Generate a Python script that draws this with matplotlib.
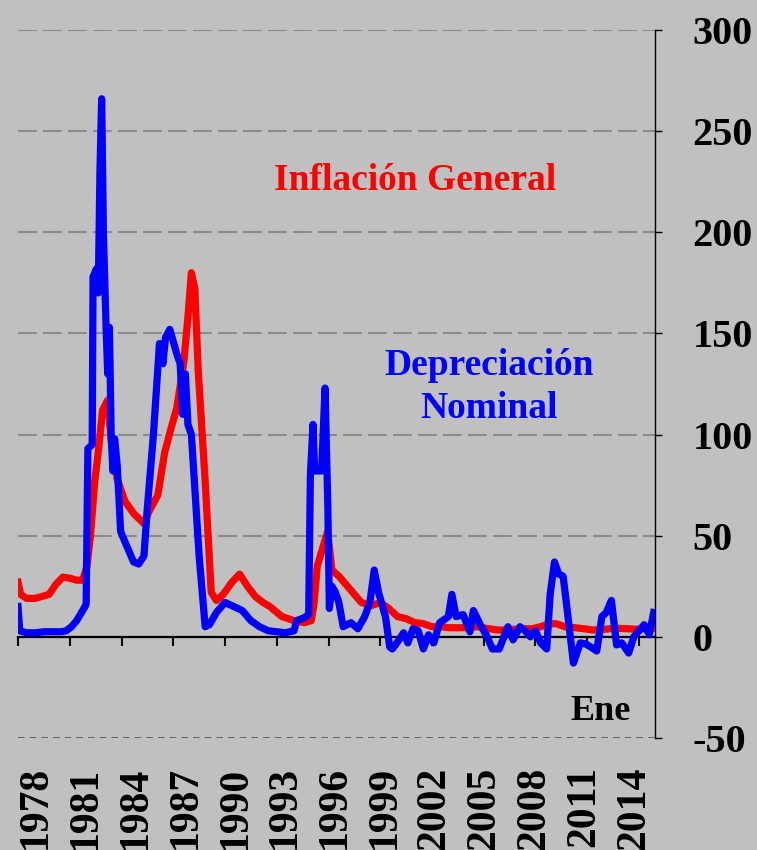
import matplotlib
matplotlib.use('Agg')
import matplotlib.pyplot as plt

# Inflación general (% anual)
red_t = [1978.0, 1978.15, 1978.5, 1979.0, 1979.4, 1979.8, 1980.2, 1980.6, 1981.0,
         1981.4, 1981.75, 1982.0, 1982.2, 1982.45, 1982.7, 1982.9, 1983.2, 1983.4,
         1983.75, 1984.2, 1984.7, 1985.3, 1985.6, 1986.1, 1986.5, 1986.9, 1987.2,
         1987.6, 1987.85, 1988.05, 1988.25, 1988.45, 1988.85, 1989.2, 1989.5, 1989.9,
         1990.4, 1990.85, 1991.3, 1991.75, 1992.2, 1992.6, 1993.3, 1994.0, 1994.6,
         1995.0, 1995.15, 1995.35, 1995.7, 1995.95, 1996.2, 1996.6, 1997.2, 1997.9,
         1998.5, 1999.0, 1999.5, 2000.0, 2000.5, 2001.0, 2001.5, 2002.0, 2002.5,
         2003.0, 2003.5, 2004.0, 2004.6, 2005.3, 2005.9, 2006.5, 2007.2, 2007.8,
         2008.3, 2008.8, 2009.2, 2009.7, 2010.3, 2010.8, 2011.3, 2011.8, 2012.3,
         2012.8, 2013.3, 2013.8, 2014.3, 2014.8]
red_v = [27, 21, 19, 19, 20, 21, 26, 29.5, 29,
         28, 28, 35, 50, 77, 95, 112, 117, 97,
         78, 67, 61, 56, 62, 70, 91, 104, 113,
         135, 158, 180, 172, 131, 77, 22, 18, 21,
         27, 31, 25, 20, 17, 15, 10, 8, 7,
         8, 16, 35, 45, 52, 33, 30, 24, 17,
         15.5, 17, 14, 10, 9, 7, 6.5, 5, 5,
         4.5, 4.5, 4.5, 5, 4, 3.3, 3.5, 4, 4,
         5, 6.5, 6.5, 5, 4.5, 4, 3.4, 3.5, 4,
         4.2, 4, 3.8, 4, 4.2]

# Depreciación nominal (% anual)
blue_t = [1978.0, 1978.1, 1978.5, 1979.0, 1979.5, 1980.0, 1980.5, 1980.8, 1981.1,
          1981.4, 1981.75, 1981.95, 1982.05, 1982.3, 1982.35, 1982.55, 1982.65, 1982.75,
          1982.85, 1982.95, 1983.1, 1983.2, 1983.3, 1983.4, 1983.5, 1983.6, 1983.75,
          1983.95, 1984.3, 1984.7, 1985.0, 1985.3, 1985.5, 1985.85, 1986.2, 1986.4,
          1986.55, 1986.8, 1987.2, 1987.4, 1987.55, 1987.7, 1987.85, 1988.05, 1988.5,
          1988.85, 1989.1, 1989.5, 1990.0, 1990.5, 1991.0, 1991.5, 1992.0, 1992.5,
          1993.0, 1993.5, 1994.0, 1994.15, 1994.6, 1994.85, 1994.95, 1995.1, 1995.2,
          1995.6, 1995.8, 1995.96, 1996.05, 1996.2, 1996.4, 1996.6, 1996.85, 1997.3,
          1997.7, 1998.1, 1998.4, 1998.65, 1998.9, 1999.3, 1999.55, 1999.7, 2000.05,
          2000.35, 2000.6, 2000.9, 2001.2, 2001.5, 2001.8, 2002.1, 2002.45, 2002.95,
          2003.15, 2003.4, 2003.8, 2004.2, 2004.4, 2004.8, 2005.2, 2005.5, 2005.9,
          2006.4, 2006.7, 2007.1, 2007.4, 2007.7, 2008.0, 2008.3, 2008.65, 2008.85,
          2009.1, 2009.35, 2009.6, 2009.8, 2010.2, 2010.6, 2010.9, 2011.2, 2011.55,
          2011.85, 2012.1, 2012.4, 2012.7, 2013.0, 2013.4, 2013.7, 2014.0, 2014.3,
          2014.6, 2014.85]
blue_v = [15, 3, 2, 2, 2.5, 2.5, 2.5, 3, 5,
          8, 13, 16, 93, 95, 178, 182, 170, 230,
          266, 200, 154, 130, 153, 100, 82, 98, 85,
          52, 45, 37, 36, 40, 64, 100, 145, 135,
          148, 152, 140, 135, 110, 130, 105, 100, 40,
          5, 6, 12, 17, 15, 13, 8, 5, 3,
          2.5, 2, 3, 8, 9.5, 11, 80, 105, 82,
          82, 123, 65, 14, 25, 22, 17, 5, 7,
          4, 10, 17, 33, 22, 10, -5, -6, -2,
          2, -3, 4, 3, -6, 1, -3, 7, 10,
          21, 10, 11, 2.5, 13, 6, 0, -6, -6,
          5, -1.5, 5, 3, 0, 3, -3, -6, 21,
          37, 31, 30, 16, -13, -3, -3.5, -5, -7,
          10, 12, 18, -4, -3, -8, 0, 3, 6,
          1, 12]

year_ticks = [1978, 1981, 1984, 1987, 1990, 1993, 1996, 1999, 2002, 2005, 2008, 2011, 2014]
year_labels = [str(y) for y in year_ticks]
label_pos = [1979.04, 1981.93, 1984.81, 1987.70, 1990.59, 1993.48, 1996.36,
             1999.25, 2002.14, 2005.02, 2007.91, 2010.80, 2013.71]
y_ticks = [-50, 0, 50, 100, 150, 200, 250, 300]

bg = '#C0C0C0'
font = 'Liberation Serif'

fig = plt.figure(figsize=(7.57, 8.5), dpi=100, facecolor=bg)
ax = fig.add_axes([0.0238, 0.1318, 0.8415, 0.8329], facecolor=bg)

# dashed grid, the -50 one is finer
for v in y_ticks:
    if v > 0:
        ax.axhline(v, color='#8a8a8a', lw=1.5, dashes=(9, 3), zorder=1)
ax.axhline(-50, color='#555555', lw=1.2, dashes=(4, 3), zorder=1)

ax.plot(red_t, red_v, color='#FF0000', lw=5.2, solid_joinstyle='round', zorder=3)
ax.plot(blue_t, blue_v, color='#0000FF', lw=5.2, solid_joinstyle='round', zorder=4)

ax.set_xlim(1978, 2014.93)
ax.set_ylim(-50, 300)

ax.spines['top'].set_visible(False)
ax.spines['left'].set_visible(False)
ax.spines['right'].set_linewidth(1.0)
ax.spines['bottom'].set_position(('data', 0))
ax.spines['bottom'].set_linewidth(1.6)
ax.spines['bottom'].set_zorder(2)

ax.yaxis.tick_right()
ax.set_yticks(y_ticks)
ax.set_yticklabels([str(v) for v in y_ticks], fontfamily=font,
                   fontweight='bold', fontsize=29)
ax.tick_params(axis='y', direction='out', length=5, width=1, pad=22)

ax.set_xticks(year_ticks)
ax.set_xticklabels([])
ax.tick_params(axis='x', direction='out', length=6.5, width=1.5)

sec = ax.secondary_xaxis(-0.04)
sec.set_xticks(label_pos)
sec.set_xticklabels(year_labels, rotation=90, fontfamily=font,
                    fontweight='bold', fontsize=30)
sec.tick_params(length=0, pad=0)
sec.spines['bottom'].set_visible(False)

ax.text(0.623, 0.788, 'Inflación General', transform=ax.transAxes, color='#FF0000',
        fontfamily=font, fontweight='bold', fontsize=27, ha='center', va='center')
ax.text(0.739, 0.4955, 'Depreciación\nNominal', transform=ax.transAxes, color='#0000FF',
        fontfamily=font, fontweight='bold', fontsize=27, ha='center', va='center',
        linespacing=1.3)
ax.text(0.914, 0.037, 'Ene', transform=ax.transAxes, color='black',
        fontfamily=font, fontweight='bold', fontsize=26, ha='center', va='center')

fig.savefig('out.png', dpi=100, facecolor=bg)
